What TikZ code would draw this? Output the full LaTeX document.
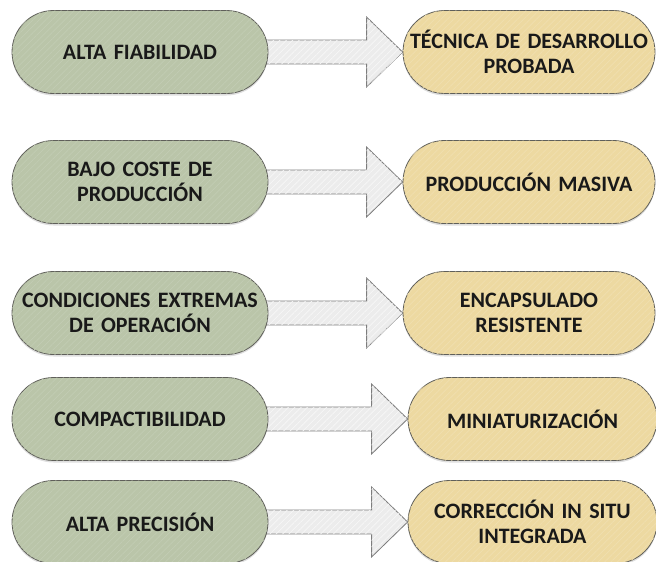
\documentclass[tikz,border=0pt]{standalone}
\usepackage{fontspec}
\setmainfont{Carlito}[WordSpace=0.75]
\usetikzlibrary{calc,backgrounds,shadows,patterns.meta}

\definecolor{causefill}{RGB}{186,197,169}
\definecolor{effectfill}{RGB}{237,217,161}
\definecolor{boxline}{RGB}{95,95,90}
\definecolor{arrowfill}{RGB}{236,236,236}
\definecolor{arrowline}{RGB}{125,125,125}
\definecolor{inktext}{RGB}{25,25,25}

\tikzset{
  stripes/.style={postaction={pattern={Lines[angle=45,distance=4.5pt,line width=0.7pt]},
      pattern color=#1}},
  pill/.style={draw=boxline, line width=0.8pt, rounded corners=41.5pt,
    minimum height=83pt, inner sep=2pt, align=center, text=inktext,
    font=\fontsize{22}{25}\selectfont\bfseries,
    drop shadow={shadow xshift=0pt, shadow yshift=-2pt, opacity=0.25}},
  cause/.style={pill, fill=causefill, stripes=causefill!88!white,
    minimum width=256pt, text width=250pt},
  effect/.style={pill, fill=effectfill, stripes=effectfill!85!white,
    text width=245pt},
  bigarrow/.style={draw=arrowline, line width=0.8pt, fill=arrowfill,
    stripes=arrowfill!40!white}
}

\begin{document}
\begin{tikzpicture}[x=1pt, y=-1pt]
  \useasboundingbox (0,0) rectangle (656,562);

  % causes (left column)
  \node[cause] (c1) at (140,52)  {ALTA FIABILIDAD};
  \node[cause] (c2) at (140,182) {BAJO COSTE DE\\PRODUCCIÓN};
  \node[cause] (c3) at (140,313) {CONDICIONES EXTREMAS\\DE OPERACIÓN};
  \node[cause] (c4) at (140,419) {COMPACTIBILIDAD};
  \node[cause] (c5) at (140,522) {ALTA PRECISIÓN};

  % consequences (right column)
  \node[effect, minimum width=252pt] (e1) at (529,52)  {TÉCNICA DE DESARROLLO\\PROBADA};
  \node[effect, minimum width=252pt] (e2) at (529,182) {PRODUCCIÓN MASIVA};
  \node[effect, minimum width=252pt] (e3) at (529,313) {ENCAPSULADO\\RESISTENTE};
  \node[effect, minimum width=245pt] (e4) at (532.5,419) {MINIATURIZACIÓN};
  \node[effect, minimum width=245pt] (e5) at (532.5,522) {CORRECCIÓN IN SITU\\INTEGRADA};

  % block arrows linking each cause to its consequence
  \begin{scope}[on background layer]
    \foreach \a/\b in {c1/e1, c2/e2, c3/e3, c4/e4, c5/e5} {
      \draw[bigarrow]
        ($(\a.east)+(-4,-12)$) -- ($(\b.west)+(-36,-12)$) --
        ($(\b.west)+(-36,-35)$) -- (\b.west) --
        ($(\b.west)+(-36,35)$) -- ($(\b.west)+(-36,12)$) --
        ($(\a.east)+(-4,12)$) -- cycle;
    }
  \end{scope}
\end{tikzpicture}
\end{document}
